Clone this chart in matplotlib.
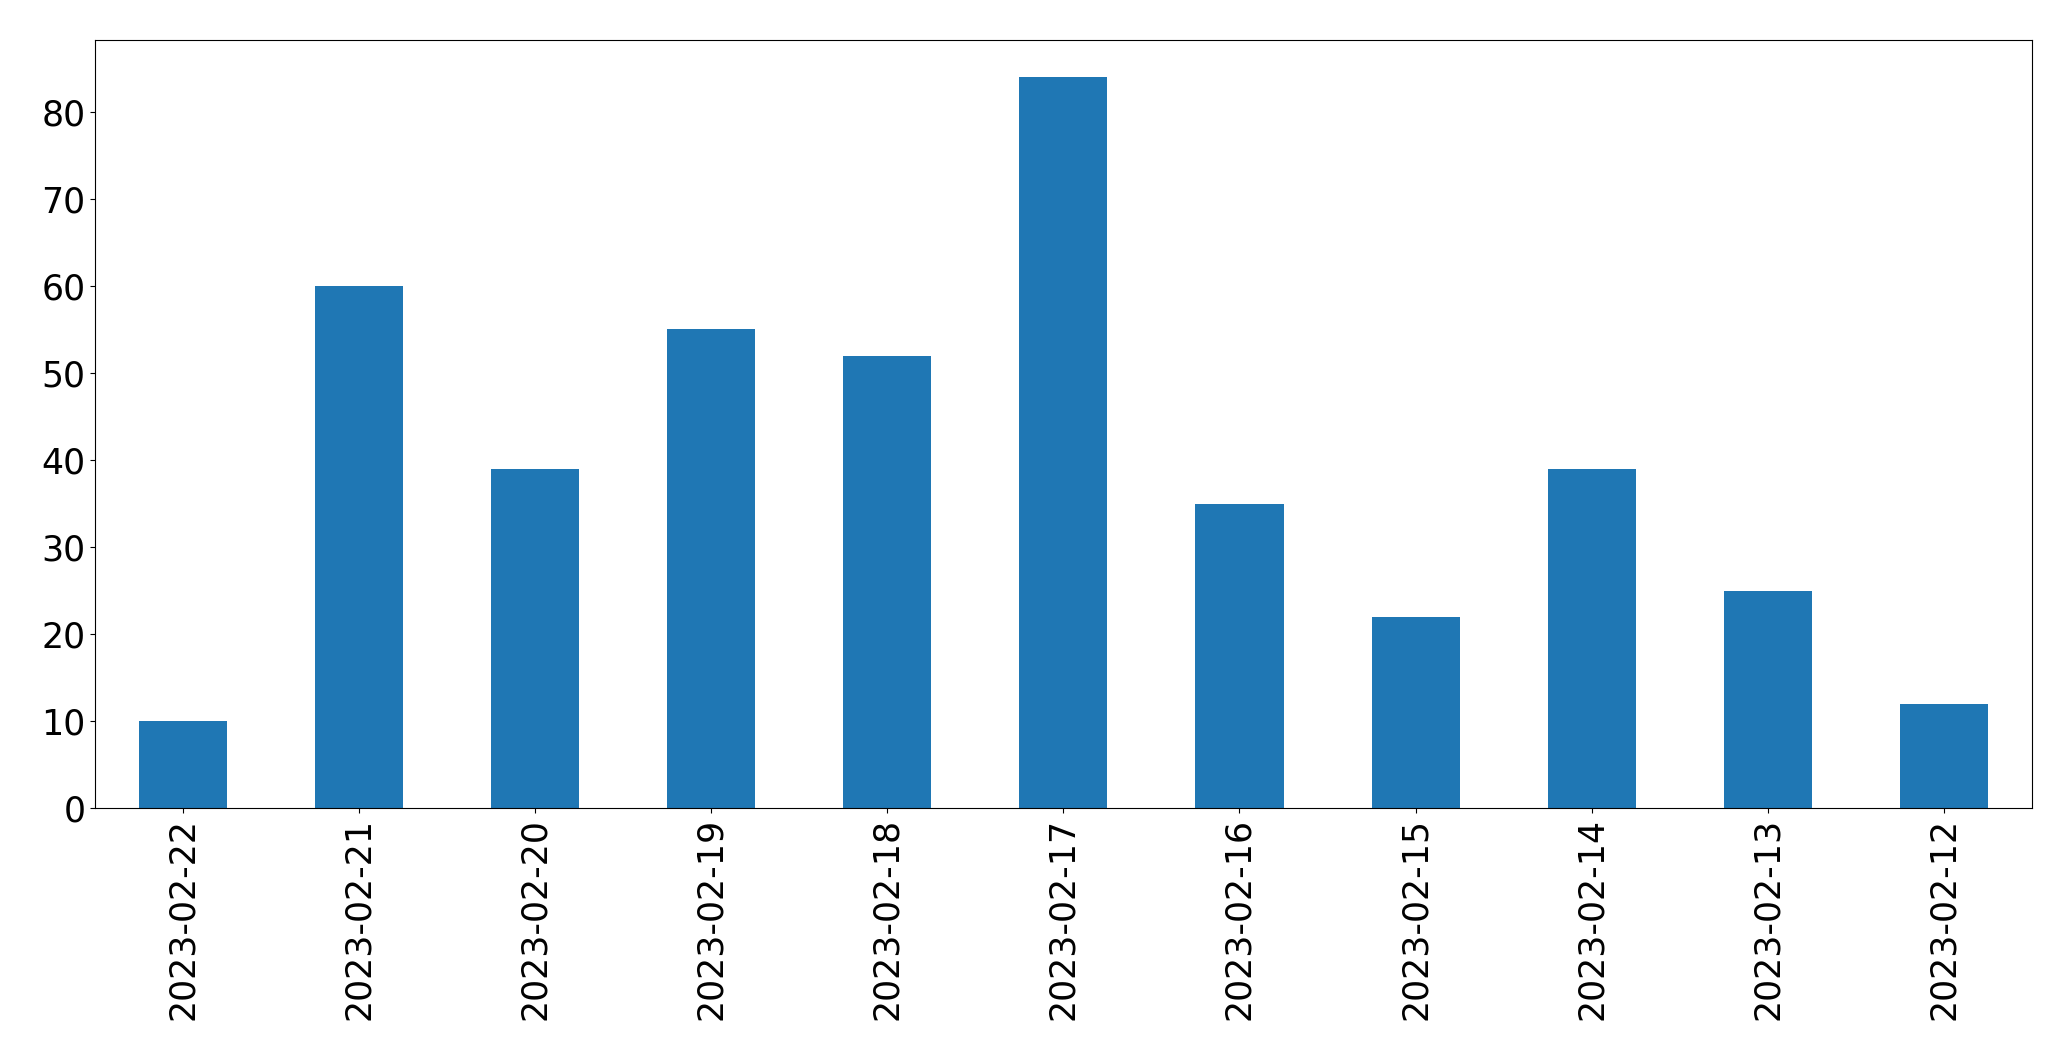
import matplotlib
matplotlib.use("Agg")
import matplotlib.pyplot as plt
import numpy as np

dates = ["2023-02-22", "2023-02-21", "2023-02-20", "2023-02-19", "2023-02-18",
         "2023-02-17", "2023-02-16", "2023-02-15", "2023-02-14", "2023-02-13",
         "2023-02-12"]
counts = [10, 60, 39, 55, 52, 84, 35, 22, 39, 25, 12]

fig, ax = plt.subplots(figsize=(20.71, 10.61), dpi=100)
x = np.arange(len(dates))
ax.bar(x, counts, width=0.5, color="#1f77b4")
ax.set_xlim(-0.5, len(dates) - 0.5)
ax.set_ylim(0, max(counts) * 1.05)
ax.set_xticks(x, dates, rotation=90)
ax.tick_params(labelsize=25)
fig.subplots_adjust(left=0.046, right=0.981, top=0.962, bottom=0.238)
fig.savefig("out.png")
